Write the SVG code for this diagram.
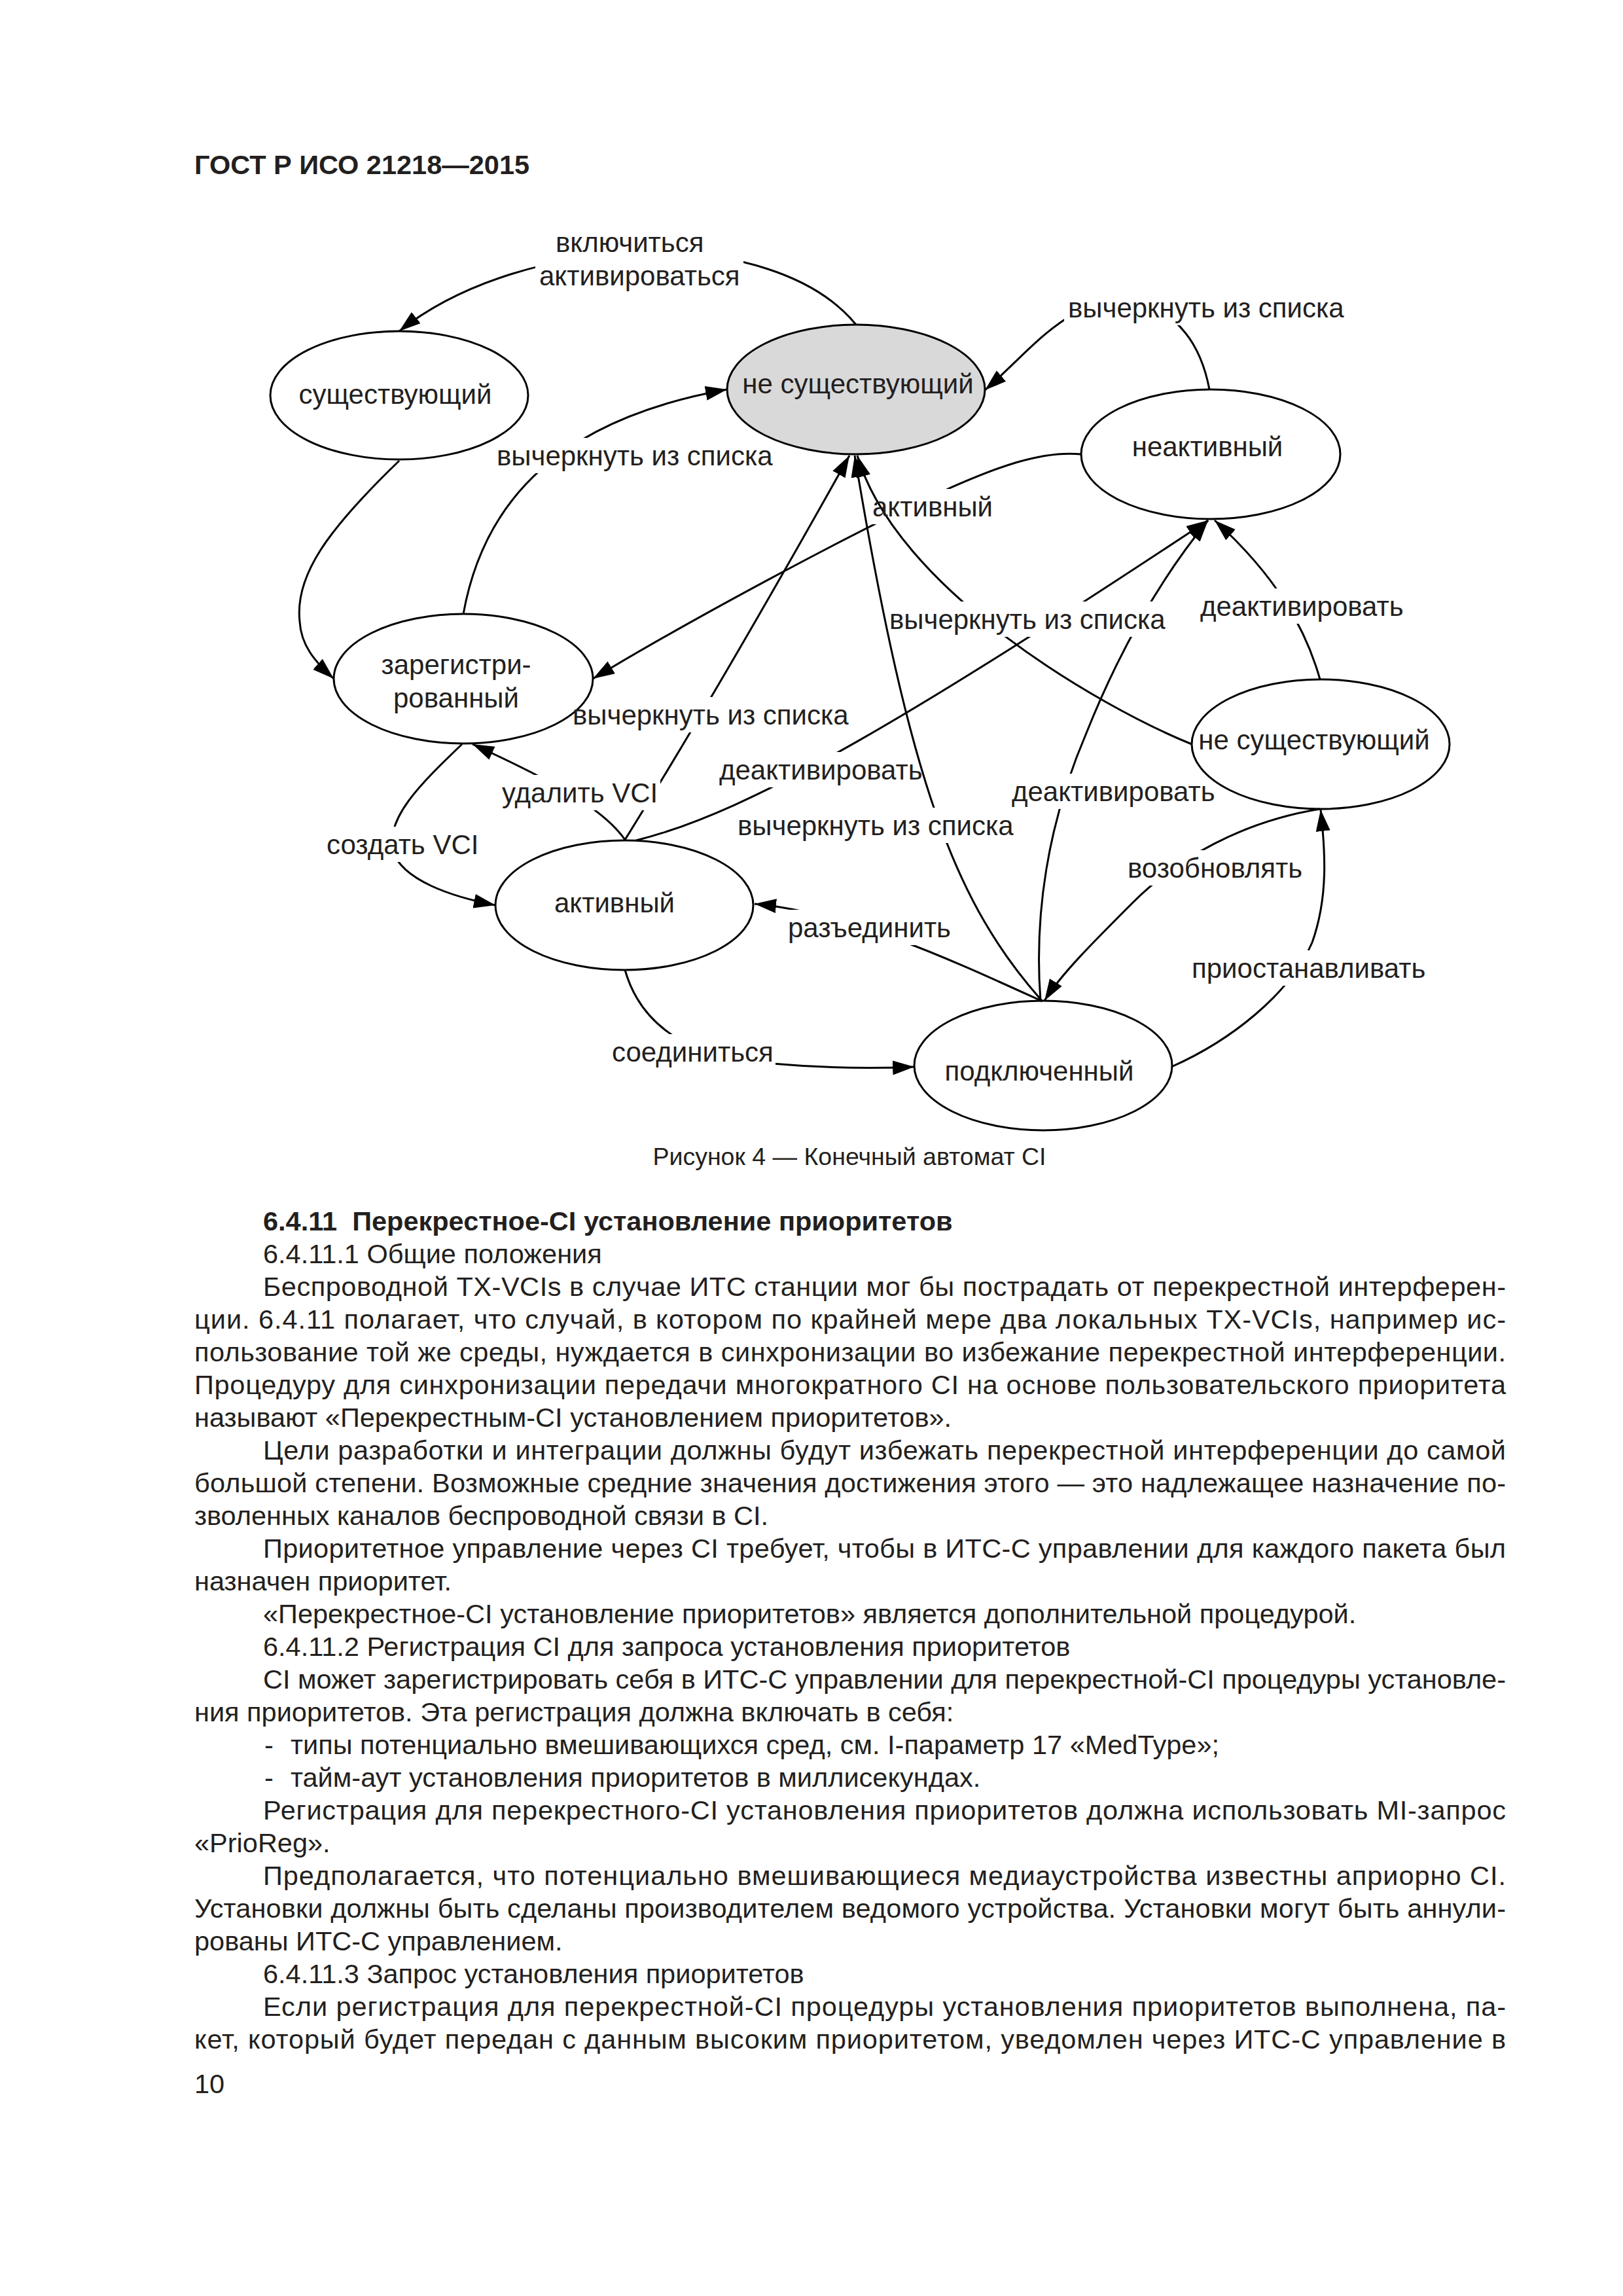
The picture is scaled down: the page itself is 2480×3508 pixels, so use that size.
<svg xmlns="http://www.w3.org/2000/svg" width="2480" height="3508" viewBox="0 0 2480 3508">
<style>
.bg{fill:#fff}
.n{fill:#fff;stroke:#000;stroke-width:3}
.g{fill:#d9d9d9}
.e{fill:none;stroke:#000;stroke-width:3;marker-end:url(#ah)}
.t{font-family:"Liberation Sans",Arial,sans-serif;font-size:42px;fill:#231f20}
.tm{text-anchor:middle}
.b{font-family:"Liberation Sans",Arial,sans-serif;font-size:41.5px;fill:#231f20}
.bb{font-weight:bold}
.cap{font-family:"Liberation Sans",Arial,sans-serif;font-size:37.5px;fill:#231f20;text-anchor:middle}
.w{fill:#fff}
.h{fill:#000}
</style>
<defs>
<marker id="ah" markerUnits="userSpaceOnUse" markerWidth="34" markerHeight="24" refX="33" refY="11" orient="auto">
<path d="M0,0 L33,11 L0,22 z" fill="#000"/>
</marker>
<mask id="m1" maskUnits="userSpaceOnUse" x="0" y="0" width="2480" height="3508"><rect class="w" width="2480" height="3508"/><rect class="h" x="818" y="340" width="318" height="110"/></mask>
<mask id="m2" maskUnits="userSpaceOnUse" x="0" y="0" width="2480" height="3508"><rect class="w" width="2480" height="3508"/><rect class="h" x="753" y="669" width="426" height="54"/></mask>
<mask id="m4" maskUnits="userSpaceOnUse" x="0" y="0" width="2480" height="3508"><rect class="w" width="2480" height="3508"/><rect class="h" x="493" y="1263" width="245" height="54"/></mask>
<mask id="m5" maskUnits="userSpaceOnUse" x="0" y="0" width="2480" height="3508"><rect class="w" width="2480" height="3508"/><rect class="h" x="761" y="1184" width="248" height="54"/></mask>
<mask id="m6" maskUnits="userSpaceOnUse" x="0" y="0" width="2480" height="3508"><rect class="w" width="2480" height="3508"/><rect class="h" x="869" y="1065" width="426" height="54"/><rect class="h" x="761" y="1184" width="248" height="54"/></mask>
<mask id="m7" maskUnits="userSpaceOnUse" x="0" y="0" width="2480" height="3508"><rect class="w" width="2480" height="3508"/><rect class="h" x="1093" y="1149" width="320" height="54"/><rect class="h" x="1353" y="919" width="426" height="54"/></mask>
<mask id="m8" maskUnits="userSpaceOnUse" x="0" y="0" width="2480" height="3508"><rect class="w" width="2480" height="3508"/><rect class="h" x="1327" y="747" width="192" height="54"/></mask>
<mask id="m9" maskUnits="userSpaceOnUse" x="0" y="0" width="2480" height="3508"><rect class="w" width="2480" height="3508"/><rect class="h" x="1353" y="919" width="426" height="54"/></mask>
<mask id="m10" maskUnits="userSpaceOnUse" x="0" y="0" width="2480" height="3508"><rect class="w" width="2480" height="3508"/><rect class="h" x="1121" y="1234" width="426" height="54"/></mask>
<mask id="m11" maskUnits="userSpaceOnUse" x="0" y="0" width="2480" height="3508"><rect class="w" width="2480" height="3508"/><rect class="h" x="1540" y="1182" width="320" height="54"/><rect class="h" x="1353" y="919" width="426" height="54"/></mask>
<mask id="m12" maskUnits="userSpaceOnUse" x="0" y="0" width="2480" height="3508"><rect class="w" width="2480" height="3508"/><rect class="h" x="1828" y="899" width="320" height="54"/></mask>
<mask id="m13" maskUnits="userSpaceOnUse" x="0" y="0" width="2480" height="3508"><rect class="w" width="2480" height="3508"/><rect class="h" x="1717" y="1299" width="275" height="54"/></mask>
<mask id="m14" maskUnits="userSpaceOnUse" x="0" y="0" width="2480" height="3508"><rect class="w" width="2480" height="3508"/><rect class="h" x="1815" y="1452" width="366" height="54"/></mask>
<mask id="m15" maskUnits="userSpaceOnUse" x="0" y="0" width="2480" height="3508"><rect class="w" width="2480" height="3508"/><rect class="h" x="1198" y="1390" width="256" height="54"/></mask>
<mask id="m16" maskUnits="userSpaceOnUse" x="0" y="0" width="2480" height="3508"><rect class="w" width="2480" height="3508"/><rect class="h" x="929" y="1580" width="256" height="54"/></mask>
<mask id="m17" maskUnits="userSpaceOnUse" x="0" y="0" width="2480" height="3508"><rect class="w" width="2480" height="3508"/><rect class="h" x="1626" y="443" width="426" height="54"/></mask>
</defs>
<rect class="bg" x="0" y="0" width="2480" height="3508"/>

<text class="b bb" x="297" y="266" font-size="41">ГОСТ Р ИСО 21218—2015</text>

<g id="nodes">
<g id="n-existing"><ellipse class="n" cx="610" cy="604" rx="197" ry="98"/><text class="t tm" x="604" y="617">существующий</text></g>
<g id="n-nonexisting"><ellipse class="n g" cx="1308" cy="595" rx="197" ry="99"/><text class="t tm" x="1311" y="601">не существующий</text></g>
<g id="n-inactive"><ellipse class="n" cx="1850" cy="694" rx="198" ry="99"/><text class="t tm" x="1845" y="697">неактивный</text></g>
<g id="n-registered"><ellipse class="n" cx="708" cy="1037" rx="198" ry="99"/><text class="t tm" x="697" y="1030">зарегистри-</text><text class="t tm" x="697" y="1081">рованный</text></g>
<g id="n-active"><ellipse class="n" cx="954" cy="1383" rx="197" ry="99"/><text class="t tm" x="939" y="1394">активный</text></g>
<g id="n-nonexisting2"><ellipse class="n" cx="2018" cy="1137" rx="197" ry="99"/><text class="t tm" x="2008" y="1145">не существующий</text></g>
<g id="n-connected"><ellipse class="n" cx="1594" cy="1628" rx="197" ry="99"/><text class="t tm" x="1588" y="1651">подключенный</text></g>
</g>

<g id="connectors">
<path class="e" mask="url(#m1)" d="M1308 496 C1180 340 800 355 610 506"/>
<path class="e" mask="url(#m2)" d="M708 938 C740 760 860 640 1111 595"/>
<path class="e" d="M610 704 C500 810 450 880 458 950 C460 985 480 1010 510 1037"/>
<path class="e" mask="url(#m4)" d="M706 1137 C640 1200 590 1250 600 1300 C615 1345 690 1370 757 1383"/>
<path class="e" mask="url(#m5)" d="M955 1283 C925 1240 860 1200 722 1137"/>
<path class="e" mask="url(#m6)" d="M955 1283 Q1100 1050 1298 696"/>
<path class="e" mask="url(#m7)" d="M972 1284 C1150 1240 1400 1090 1846 795"/>
<path class="e" mask="url(#m8)" d="M1652 694 C1590 688 1520 715 1444 749 C1300 815 1050 950 906 1037"/>
<path class="e" mask="url(#m9)" d="M1821 1137 C1680 1080 1370 900 1310 696"/>
<path class="e" mask="url(#m10)" d="M1592 1529 C1460 1380 1390 1200 1306 696"/>
<path class="e" mask="url(#m11)" d="M1590 1529 C1580 1400 1600 1260 1660 1120 C1700 1020 1760 900 1846 795"/>
<path class="e" mask="url(#m12)" d="M2017 1038 C1995 960 1950 880 1856 795"/>
<path class="e" mask="url(#m17)" d="M1848 595 C1830 500 1770 455 1700 460 C1620 470 1570 540 1505 596"/>
<path class="e" mask="url(#m13)" d="M2017 1236 C1900 1255 1800 1310 1730 1380 C1670 1440 1620 1490 1596 1529"/>
<path class="e" mask="url(#m14)" d="M1790 1630 C1880 1590 1970 1520 2005 1440 C2030 1370 2025 1300 2018 1237"/>
<path class="e" mask="url(#m15)" d="M1593 1530 C1450 1465 1300 1395 1153 1381"/>
<path class="e" mask="url(#m16)" d="M955 1482 C980 1570 1060 1620 1180 1625 C1260 1632 1330 1633 1397 1630"/>
</g>

<g id="edge-labels">
<text class="t" x="849" y="385">включиться</text>
<text class="t" x="824" y="436">активироваться</text>
<text class="t" x="759" y="711">вычеркнуть из списка</text>
<text class="t" x="1632" y="485">вычеркнуть из списка</text>
<text class="t" x="1333" y="789">активный</text>
<text class="t" x="1359" y="961">вычеркнуть из списка</text>
<text class="t" x="1834" y="941">деактивировать</text>
<text class="t" x="875" y="1107">вычеркнуть из списка</text>
<text class="t" x="1099" y="1191">деактивировать</text>
<text class="t" x="767" y="1226">удалить VCI</text>
<text class="t" x="499" y="1305">создать VCI</text>
<text class="t" x="1127" y="1276">вычеркнуть из списка</text>
<text class="t" x="1546" y="1224">деактивировать</text>
<text class="t" x="1723" y="1341">возобновлять</text>
<text class="t" x="1204" y="1432">разъединить</text>
<text class="t" x="1821" y="1494">приостанавливать</text>
<text class="t" x="935" y="1622">соединиться</text>
</g>

<text class="cap" x="1298" y="1780">Рисунок 4 — Конечный автомат CI</text>

<g id="body">
<text class="b bb" x="402" y="1880" xml:space="preserve">6.4.11  Перекрестное-CI установление приоритетов</text>
<text class="b" x="402" y="1930">6.4.11.1 Общие положения</text>
<text class="b" x="402" y="1980" textLength="1899" lengthAdjust="spacing">Беспроводной TX-VCIs в случае ИТС станции мог бы пострадать от перекрестной интерферен-</text>
<text class="b" x="297" y="2030" textLength="2004" lengthAdjust="spacing">ции. 6.4.11 полагает, что случай, в котором по крайней мере два локальных TX-VCIs, например ис-</text>
<text class="b" x="297" y="2080" textLength="2004" lengthAdjust="spacing">пользование той же среды, нуждается в синхронизации во избежание перекрестной интерференции.</text>
<text class="b" x="297" y="2130" textLength="2004" lengthAdjust="spacing">Процедуру для синхронизации передачи многократного CI на основе пользовательского приоритета</text>
<text class="b" x="297" y="2180">называют «Перекрестным-CI установлением приоритетов».</text>
<text class="b" x="402" y="2230" textLength="1899" lengthAdjust="spacing">Цели разработки и интеграции должны будут избежать перекрестной интерференции до самой</text>
<text class="b" x="297" y="2280" textLength="2004" lengthAdjust="spacing">большой степени. Возможные средние значения достижения этого — это надлежащее назначение по-</text>
<text class="b" x="297" y="2330">зволенных каналов беспроводной связи в CI.</text>
<text class="b" x="402" y="2380" textLength="1899" lengthAdjust="spacing">Приоритетное управление через CI требует, чтобы в ИТС-С управлении для каждого пакета был</text>
<text class="b" x="297" y="2430">назначен приоритет.</text>
<text class="b" x="402" y="2480">«Перекрестное-CI установление приоритетов» является дополнительной процедурой.</text>
<text class="b" x="402" y="2530">6.4.11.2 Регистрация CI для запроса установления приоритетов</text>
<text class="b" x="402" y="2580" textLength="1899" lengthAdjust="spacing">CI может зарегистрировать себя в ИТС-С управлении для перекрестной-CI процедуры установле-</text>
<text class="b" x="297" y="2630">ния приоритетов. Эта регистрация должна включать в себя:</text>
<text class="b" y="2680"><tspan x="404">-</tspan><tspan x="444">типы потенциально вмешивающихся сред, см. I-параметр 17 «MedType»;</tspan></text>
<text class="b" y="2730"><tspan x="404">-</tspan><tspan x="444">тайм-аут установления приоритетов в миллисекундах.</tspan></text>
<text class="b" x="402" y="2780" textLength="1899" lengthAdjust="spacing">Регистрация для перекрестного-CI установления приоритетов должна использовать MI-запрос</text>
<text class="b" x="297" y="2830">«PrioReg».</text>
<text class="b" x="402" y="2880" textLength="1899" lengthAdjust="spacing">Предполагается, что потенциально вмешивающиеся медиаустройства известны априорно CI.</text>
<text class="b" x="297" y="2930" textLength="2004" lengthAdjust="spacing">Установки должны быть сделаны производителем ведомого устройства. Установки могут быть аннули-</text>
<text class="b" x="297" y="2980">рованы ИТС-С управлением.</text>
<text class="b" x="402" y="3030">6.4.11.3 Запрос установления приоритетов</text>
<text class="b" x="402" y="3080" textLength="1899" lengthAdjust="spacing">Если регистрация для перекрестной-CI процедуры установления приоритетов выполнена, па-</text>
<text class="b" x="297" y="3130" textLength="2004" lengthAdjust="spacing">кет, который будет передан с данным высоким приоритетом, уведомлен через ИТС-С управление в</text>
<text class="b" x="297" y="3198">10</text>
</g>
</svg>
